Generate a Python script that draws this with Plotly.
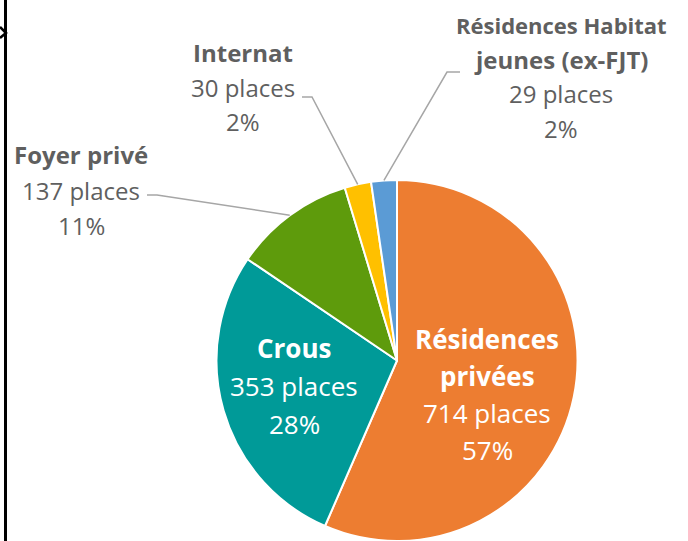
import math
import plotly.graph_objects as go

W, H = 688, 541

# ---- data ----
categories = ["Résidences privées", "Crous", "Foyer privé", "Internat",
              "Résidences Habitat jeunes (ex-FJT)"]
places = [714, 353, 137, 30, 29]
colors = ["#ED7D31", "#009A98", "#5E9B0C", "#FFC000", "#5B9BD5"]
name_lines = [["Résidences", "privées"], ["Crous"], ["Foyer privé"], ["Internat"],
              ["Résidences Habitat", "jeunes (ex-FJT)"]]

total = sum(places)
pcts = [round(v * 100 / total) for v in places]

# ---- layout constants (pixels) ----
cx, cy, R = 397, 361, 181
GRAY = "#5f5f5f"
FONT = "Open Sans"

# label block placement: x centre, y centre of first line, line spacing, font size, colour
label_pos = [
    (487, 339, 37, 26, "white"),
    (294, 348, 38, 26, "white"),
    (81, 154, 36, 24, GRAY),
    (243, 52, 35, 24, GRAY),
    (561, 25, 34.5, 24, GRAY),
]
size_override = {(4, 0): 22}
# leader line elbows (text end, elbow) for outside labels
leaders = {2: [(147, 195), (157, 195)], 3: [(302, 97), (312, 97)], 4: [(460, 72), (447, 72)]}


def px(x):
    return x / W


def py(y):
    return 1 - y / H


fig = go.Figure(go.Pie(
    labels=categories, values=places, sort=False, direction="clockwise", rotation=0,
    marker=dict(colors=colors, line=dict(color="white", width=2)),
    textinfo="none", hoverinfo="label+value+percent", showlegend=False,
    domain=dict(x=[(cx - R) / W, (cx + R) / W], y=[max(0, (H - cy - R) / H), (H - cy + R) / H]),
))

annotations = []
shapes = []
cum = 0
for i, v in enumerate(places):
    mid = (cum + v / 2) / total * 2 * math.pi
    cum += v
    x0, y0, sp, fs, col = label_pos[i]
    lines = ["<b>%s</b>" % s for s in name_lines[i]] + ["%d places" % v, "%d%%" % pcts[i]]
    for k, t in enumerate(lines):
        annotations.append(dict(
            x=px(x0), y=py(y0 + k * sp), xref="paper", yref="paper", text=t,
            showarrow=False, xanchor="center", yanchor="middle",
            font=dict(family=FONT, size=size_override.get((i, k), fs), color=col)))
    if i in leaders:
        ex = cx + R * math.sin(mid)
        ey = cy - R * math.cos(mid)
        pts = leaders[i] + [(ex, ey)]
        path = "M " + " L ".join("%.5f,%.5f" % (px(a), py(b)) for a, b in pts)
        shapes.append(dict(type="path", path=path, xref="paper", yref="paper",
                           line=dict(color="#a6a6a6", width=1.5)))

# frame artefacts at the left edge
shapes.append(dict(type="line", xref="paper", yref="paper", x0=px(5.5), x1=px(5.5), y0=0, y1=1,
                   line=dict(color="black", width=3)))
shapes.append(dict(type="path", xref="paper", yref="paper",
                   path="M %f,%f L %f,%f L %f,%f" % (px(0), py(27), px(6), py(33), px(0), py(38)),
                   line=dict(color="black", width=2.5)))

fig.update_layout(
    width=W, height=H, margin=dict(l=0, r=0, t=0, b=0),
    paper_bgcolor="white", plot_bgcolor="white",
    annotations=annotations, shapes=shapes,
    font=dict(family=FONT),
)

fig.write_html("out.html", config={"displayModeBar": False},
               post_script="document.body.style.margin='0';document.body.style.overflow='hidden';")
